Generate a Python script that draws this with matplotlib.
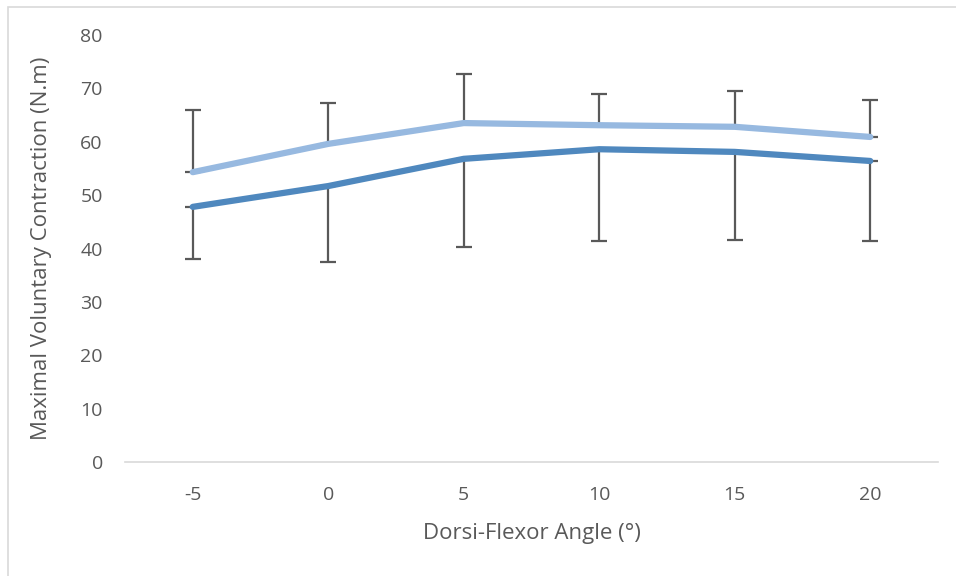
import matplotlib
matplotlib.use("Agg")
import matplotlib.pyplot as plt
from matplotlib.patches import Rectangle

angles = ["-5", "0", "5", "10", "15", "20"]
upper_mean = [54.3, 59.6, 63.5, 63.1, 62.8, 60.9]
upper_err = [11.6, 7.7, 9.2, 5.8, 6.7, 6.9]
lower_mean = [47.8, 51.7, 56.8, 58.6, 58.1, 56.4]
lower_err = [9.8, 14.2, 16.5, 17.2, 16.5, 15.0]
yticks = [0, 10, 20, 30, 40, 50, 60, 70, 80]

plt.rcParams['font.family'] = ['Open Sans', 'DejaVu Sans']
txt = '#595959'

fig = plt.figure(figsize=(9.56, 5.76), dpi=100)
ax = fig.add_axes([125/956, 1-462/576, (938-125)/956, (462-35)/576])

x = list(range(len(angles)))
ax.errorbar(x, upper_mean, yerr=[[0]*6, upper_err], color='#97B9E0', lw=4.5,
            ecolor='#595959', elinewidth=1.6, capsize=6, capthick=1.6,
            solid_capstyle='round', zorder=3)
ax.errorbar(x, lower_mean, yerr=[lower_err, [0]*6], color='#4F88BE', lw=4.5,
            ecolor='#595959', elinewidth=1.6, capsize=6, capthick=1.6,
            solid_capstyle='round', zorder=3)

ax.set_xlim(-0.5, len(angles) - 0.5)
ax.set_ylim(0, 80)
ax.set_xticks(x)
ax.set_xticklabels(angles)
ax.set_yticks(yticks)
ax.tick_params(length=0, labelsize=14, colors=txt)
ax.tick_params(axis='y', pad=16)
ax.tick_params(axis='x', pad=17)
for s in ['top', 'right', 'left']:
    ax.spines[s].set_visible(False)
ax.spines['bottom'].set_color('#d9d9d9')
ax.spines['bottom'].set_linewidth(1.2)

ax.set_xlabel("Dorsi-Flexor Angle (°)", fontsize=16, color=txt, labelpad=14)
ax.set_ylabel("Maximal Voluntary Contraction (N.m)", fontsize=16, color=txt, labelpad=20)

fig.patches.append(Rectangle((8/956, -0.1), 1, 1.1 - 7/576, transform=fig.transFigure,
                             fill=False, edgecolor='#d9d9d9', lw=1.2))

fig.savefig("out.png", dpi=100)
